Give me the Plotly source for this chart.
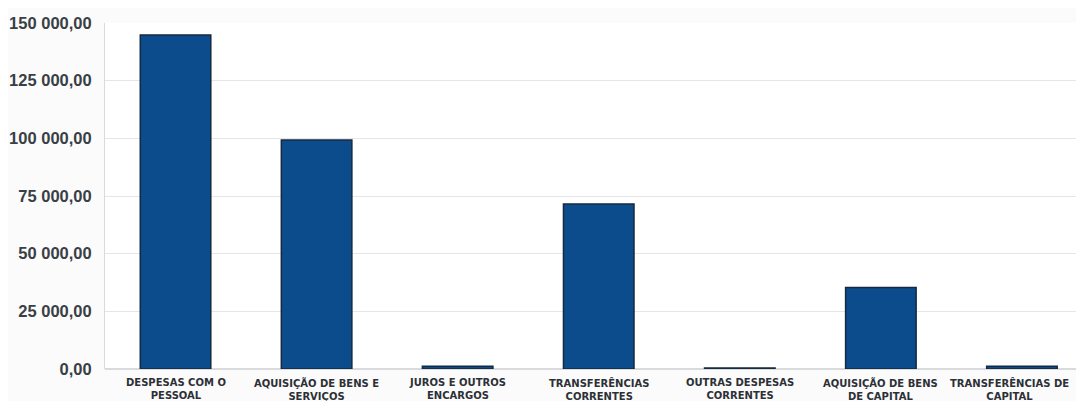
import plotly.graph_objects as go

categories = [
    "DESPESAS COM O<br>PESSOAL",
    "AQUISIÇÃO DE BENS E<br>SERVIÇOS",
    "JUROS E OUTROS<br>ENCARGOS",
    "TRANSFERÊNCIAS<br>CORRENTES",
    "OUTRAS DESPESAS<br>CORRENTES",
    "AQUISIÇÃO DE BENS<br>DE CAPITAL",
    "TRANSFERÊNCIAS DE<br>CAPITAL",
]
values = [144800, 99300, 1200, 71500, 400, 35300, 1200]

tick_values = [0, 25000, 50000, 75000, 100000, 125000, 150000]
tick_labels = ["0,00", "25 000,00", "50 000,00", "75 000,00",
               "100 000,00", "125 000,00", "150 000,00"]

positions = list(range(len(categories)))

fig = go.Figure(
    go.Bar(
        x=positions,
        y=values,
        width=0.5,
        marker=dict(color="#0c4c8c", line=dict(color="#142a40", width=1.5)),
    )
)

for pos, label in zip(positions, categories):
    fig.add_annotation(
        x=pos, xref="x", y=0, yref="paper",
        yanchor="top", xanchor="center", yshift=-6,
        xshift=-12 if pos == positions[-1] else 0,
        text=label, showarrow=False, align="center",
        font=dict(family="DejaVu Sans", size=10, color="#2c3036", weight="bold"),
    )

fig.update_layout(
    width=1076,
    height=393,
    margin=dict(l=97, r=0, t=15, b=32),
    paper_bgcolor="#fbfbfb",
    plot_bgcolor="#ffffff",
    showlegend=False,
    bargap=0.5,
)

fig.update_xaxes(
    tickmode="array",
    tickvals=positions,
    ticktext=[""] * len(positions),
    range=[-0.5, 6.44],
    showgrid=False,
    zeroline=False,
    showline=False,
    ticks="",
    automargin=False,
)

fig.update_yaxes(
    tickmode="array",
    tickvals=tick_values,
    ticktext=tick_labels,
    range=[0, 150000],
    showgrid=True,
    gridcolor="#e4e6e8",
    gridwidth=1,
    zeroline=True,
    zerolinecolor="#d8dadc",
    showline=True,
    linecolor="#d8dadc",
    ticks="",
    ticklabelstandoff=9,
    automargin=False,
    tickfont=dict(family="Liberation Sans", size=16.5, color="#3a3f45", weight="bold"),
)

fig.write_html("out.html")
